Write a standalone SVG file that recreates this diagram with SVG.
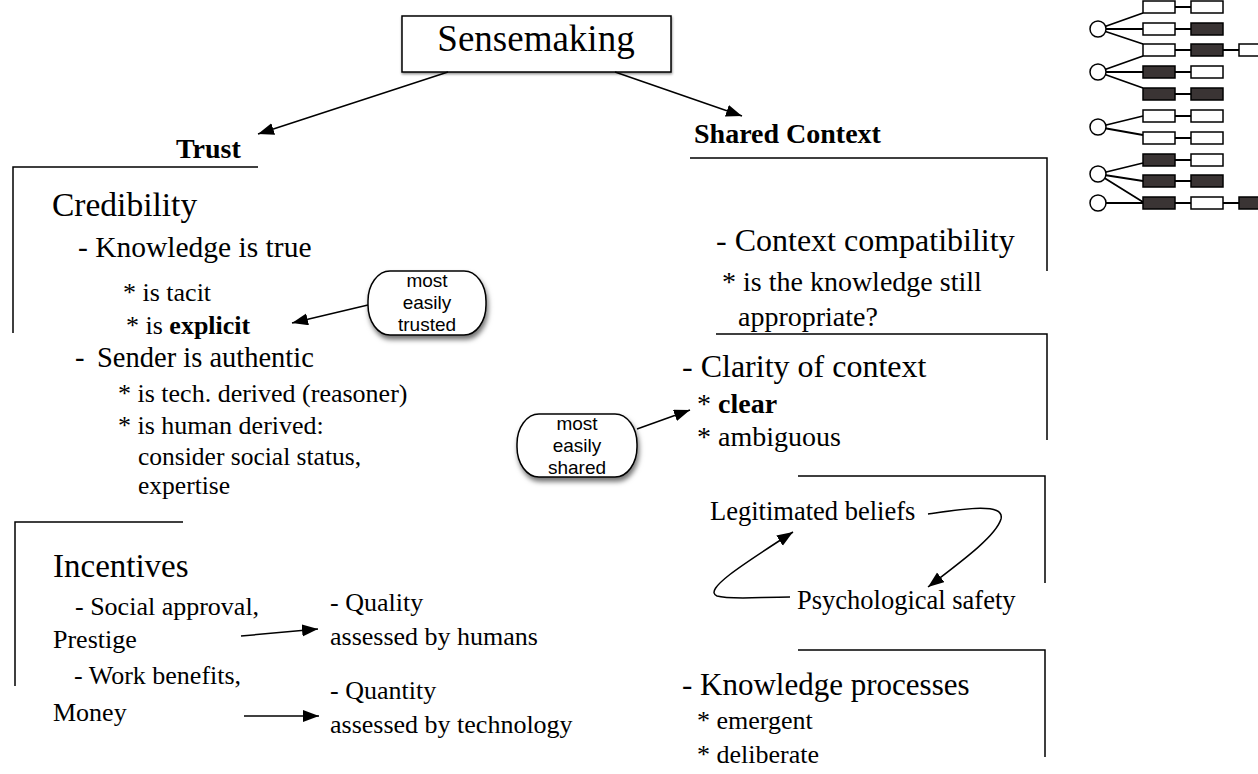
<svg xmlns="http://www.w3.org/2000/svg" width="1258" height="774" viewBox="0 0 1258 774">
<defs>
<marker id="ah" markerUnits="userSpaceOnUse" markerWidth="18" markerHeight="14" refX="16" refY="6" orient="auto">
<path d="M0,0 L16,6 L0,12 Z" fill="#000"/>
</marker>
<filter id="sh" x="-20%" y="-20%" width="150%" height="160%">
<feDropShadow dx="1.5" dy="4" stdDeviation="2.5" flood-color="#000" flood-opacity="0.55"/>
</filter>
<filter id="sh2" x="-10%" y="-20%" width="120%" height="150%">
<feDropShadow dx="0.5" dy="1.5" stdDeviation="1" flood-color="#000" flood-opacity="0.45"/>
</filter>
</defs>
<style>
.t{font-family:"Liberation Serif","Times New Roman",serif;fill:#000}
.s{font-family:"Liberation Sans",Arial,sans-serif;fill:#000;font-size:19px;text-anchor:middle}
.b{font-weight:bold}
.ln{stroke:#000;stroke-width:1.5;fill:none}
.cn{stroke:#000;stroke-width:1.5;fill:none;marker-end:url(#ah)}
.w{fill:#fff;stroke:#000;stroke-width:1.5}
.d{fill:#3a3434;stroke:#000;stroke-width:1.5}
.c{fill:#fff;stroke:#000;stroke-width:1.5}
.e{stroke:#000;stroke-width:1.8;fill:none}
</style>
<rect width="1258" height="774" fill="#fff"/>

<g id="sensemaking">
<rect x="402" y="16" width="269" height="56" fill="#fff" stroke="#000" stroke-width="1.5" filter="url(#sh2)"/>
<text class="t" x="536" y="51" font-size="37" text-anchor="middle">Sensemaking</text>
</g>

<g id="trust">
<text class="t b" x="176" y="158" font-size="28">Trust</text>
<path class="ln" d="M258,167 L13,167 L13,333"/>
<text class="t" x="52" y="216" font-size="33.5">Credibility</text>
<text class="t" x="78" y="257" font-size="29.5">- Knowledge is true</text>
<text class="t" x="123" y="301" font-size="26">* is tacit</text>
<text class="t" x="126" y="334" font-size="26">* is <tspan class="b">explicit</tspan></text>
<text class="t" x="75" y="367" font-size="28.5">-</text>
<text class="t" x="97" y="367" font-size="28.5">Sender is authentic</text>
<text class="t" x="118" y="402" font-size="26">* is tech. derived (reasoner)</text>
<text class="t" x="118" y="434" font-size="26">* is human derived:</text>
<text class="t" x="138" y="465" font-size="25.5">consider social status,</text>
<text class="t" x="138" y="494" font-size="25.5">expertise</text>
</g>

<g id="incentives">
<path class="ln" d="M183,522 L15,522 L15,686"/>
<text class="t" x="53" y="577" font-size="33">Incentives</text>
<text class="t" x="75" y="615" font-size="26">- Social approval,</text>
<text class="t" x="53" y="648" font-size="26">Prestige</text>
<text class="t" x="74" y="684" font-size="26">- Work benefits,</text>
<text class="t" x="53" y="721" font-size="26">Money</text>
</g>

<g id="quality">
<text class="t" x="330" y="611" font-size="26">- Quality</text>
<text class="t" x="330" y="645" font-size="26">assessed by humans</text>
</g>

<g id="quantity">
<text class="t" x="330" y="699" font-size="26">- Quantity</text>
<text class="t" x="330" y="733" font-size="26">assessed by technology</text>
</g>

<g id="callout-trusted">
<rect x="368" y="271" width="118" height="64" rx="22" ry="30" class="c" filter="url(#sh)"/>
<text class="s" x="427" y="287">most</text>
<text class="s" x="427" y="309">easily</text>
<text class="s" x="427" y="331">trusted</text>
</g>

<g id="callout-shared">
<rect x="517" y="414" width="120" height="63" rx="22" ry="30" class="c" filter="url(#sh)"/>
<text class="s" x="577" y="430">most</text>
<text class="s" x="577" y="452">easily</text>
<text class="s" x="577" y="474">shared</text>
</g>

<g id="shared-context">
<text class="t b" x="694" y="143" font-size="28">Shared Context</text>
</g>

<g id="context-compat">
<path class="ln" d="M690,158 L1047,158 L1047,271"/>
<text class="t" x="716" y="251" font-size="32">- Context compatibility</text>
<text class="t" x="722" y="291" font-size="28">* is the knowledge still</text>
<text class="t" x="738" y="326" font-size="28">appropriate?</text>
</g>

<g id="clarity">
<path class="ln" d="M716,334 L1047,334 L1047,440"/>
<text class="t" x="682" y="377" font-size="32">- Clarity of context</text>
<text class="t" x="697" y="413" font-size="28">* <tspan class="b">clear</tspan></text>
<text class="t" x="697" y="446" font-size="28">* ambiguous</text>
</g>

<g id="beliefs-safety">
<path class="ln" d="M798,476 L1045,476 L1045,583"/>
<text class="t" x="710" y="520" font-size="26.5">Legitimated beliefs</text>
<text class="t" x="797" y="609" font-size="26.5">Psychological safety</text>
</g>

<g id="knowledge-processes">
<path class="ln" d="M798,650 L1045,650 L1045,757"/>
<text class="t" x="682" y="695" font-size="31">- Knowledge processes</text>
<text class="t" x="697" y="729" font-size="26">* emergent</text>
<text class="t" x="697" y="763" font-size="26">* deliberate</text>
</g>

<g id="connectors">
<path class="cn" d="M448,72 L258,134"/>
<path class="cn" d="M615,72 L742,116"/>
<path class="cn" d="M368,305 L292,323"/>
<path class="cn" d="M637,429 L690,410"/>
<path class="cn" d="M241,636 L318,629"/>
<path class="cn" d="M244,716 L319,716"/>
<path class="cn" d="M928,514 C962,509 1005,502 1001,519 C996,536 962,561 928,587"/>
<path class="cn" d="M790,597 C760,597 730,600 717,596 C703,590 740,566 793,532"/>
</g>

<g id="network-icon">
<g>
<path class="e" d="M1098,29 L1143,13 M1098,29 L1143,29 M1098,29 L1143,44 M1098,72 L1143,56 M1098,72 L1143,72 M1098,72 L1143,88 M1098,127 L1143,116 M1098,127 L1143,135 M1098,174 L1143,163 M1098,174 L1143,181 M1098,174 L1143,202 M1098,203 L1143,203"/>
<path class="e" d="M1175,7 H1191 M1175,29 H1191 M1175,50 H1191 M1223,50 H1239 M1175,72 H1191 M1175,94 H1191 M1175,116 H1191 M1175,138 H1191 M1175,160 H1191 M1175,181 H1191 M1175,203 H1191 M1223,203 H1239"/>
</g>
<rect class="w" x="1143" y="1" width="32" height="12"/><rect class="w" x="1191" y="1" width="32" height="12"/>
<rect class="w" x="1143" y="23" width="32" height="12"/><rect class="d" x="1191" y="23" width="32" height="12"/>
<rect class="w" x="1143" y="44" width="32" height="12"/><rect class="d" x="1191" y="44" width="32" height="12"/><rect class="w" x="1239" y="44" width="32" height="12"/>
<rect class="d" x="1143" y="66" width="32" height="12"/><rect class="w" x="1191" y="66" width="32" height="12"/>
<rect class="d" x="1143" y="88" width="32" height="12"/><rect class="d" x="1191" y="88" width="32" height="12"/>
<rect class="w" x="1143" y="110" width="32" height="12"/><rect class="w" x="1191" y="110" width="32" height="12"/>
<rect class="w" x="1143" y="132" width="32" height="12"/><rect class="w" x="1191" y="132" width="32" height="12"/>
<rect class="d" x="1143" y="154" width="32" height="12"/><rect class="w" x="1191" y="154" width="32" height="12"/>
<rect class="d" x="1143" y="175" width="32" height="12"/><rect class="d" x="1191" y="175" width="32" height="12"/>
<rect class="d" x="1143" y="197" width="32" height="12"/><rect class="w" x="1191" y="197" width="32" height="12"/><rect class="d" x="1239" y="197" width="32" height="12"/>
<circle class="c" cx="1098" cy="29" r="8"/>
<circle class="c" cx="1098" cy="72" r="8"/>
<circle class="c" cx="1098" cy="127" r="8"/>
<circle class="c" cx="1098" cy="174" r="8"/>
<circle class="c" cx="1098" cy="203" r="8"/>
</g>
</svg>
